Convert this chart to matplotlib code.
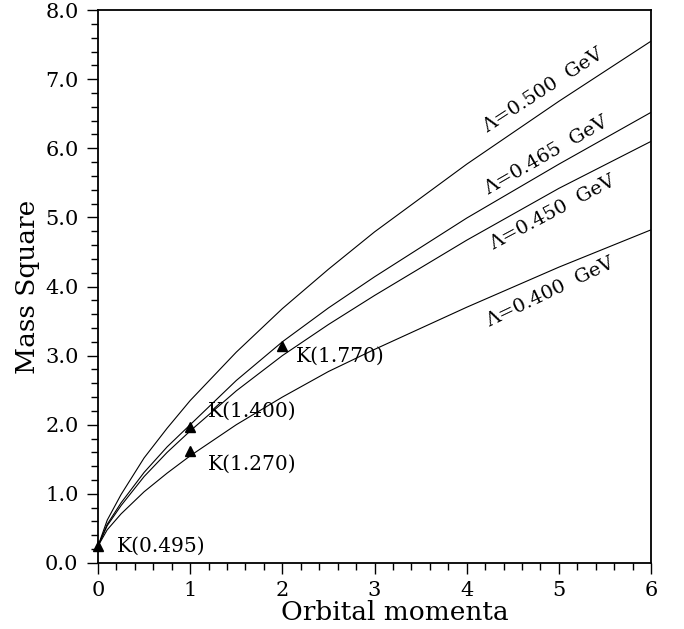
import matplotlib
matplotlib.use("Agg")
import matplotlib.pyplot as plt
from matplotlib.ticker import MultipleLocator, FormatStrFormatter

plt.rcParams['font.family'] = ['DejaVu Serif']

# orbital momentum grid and curves
L = [0, 0.1, 0.25, 0.5, 0.75, 1, 1.5, 2, 2.5, 3, 4, 5, 6]
m2_500 = [0.245, 0.62, 0.99, 1.52, 1.95, 2.35, 3.05, 3.68, 4.25, 4.79, 5.77, 6.68, 7.55]
m2_465 = [0.245, 0.56, 0.87, 1.31, 1.68, 2.00, 2.64, 3.20, 3.69, 4.14, 4.99, 5.77, 6.52]
m2_450 = [0.245, 0.54, 0.83, 1.25, 1.60, 1.91, 2.49, 3.00, 3.45, 3.87, 4.67, 5.42, 6.10]
m2_400 = [0.245, 0.48, 0.71, 1.03, 1.30, 1.55, 2.00, 2.40, 2.77, 3.09, 3.70, 4.28, 4.82]

curve_labels = ["\u039b=0.500  GeV", "\u039b=0.465  GeV", "\u039b=0.450  GeV", "\u039b=0.400  GeV"]
label_pos = [(4.83, 6.84, 33), (4.86, 5.90, 30), (4.93, 5.07, 28), (4.91, 3.91, 25.5)]

# experimental kaon states
k_L = [0, 1, 1, 2]
k_m2 = [0.245, 1.613, 1.96, 3.133]
k_names = ["K(0.495)", "K(1.270)", "K(1.400)", "K(1.770)"]
k_text = [(0.2, 0.245), (1.19, 1.43), (1.19, 2.2), (2.15, 2.99)]

fig = plt.figure(figsize=(6.84, 6.29), dpi=100)
ax = fig.add_axes([0.1433, 0.105, 0.8085, 0.879])

for ys in [m2_500, m2_465, m2_450, m2_400]:
    ax.plot(L, ys, color='black', linewidth=0.8)

for lab, (x, y, rot) in zip(curve_labels, label_pos):
    ax.text(x, y, lab, rotation=rot, ha='center', va='center', fontsize=14)

ax.plot(k_L, k_m2, linestyle='none', marker='^', color='black', markersize=7, clip_on=False)
for name, (x, y) in zip(k_names, k_text):
    ax.text(x, y, name, ha='left', va='center', fontsize=14.5)

ax.set_xlim(0, 6)
ax.set_ylim(0, 8)
ax.xaxis.set_major_locator(MultipleLocator(1))
ax.xaxis.set_minor_locator(MultipleLocator(0.2))
ax.yaxis.set_major_locator(MultipleLocator(1))
ax.yaxis.set_minor_locator(MultipleLocator(0.2))
ax.yaxis.set_major_formatter(FormatStrFormatter('%.1f'))

ax.tick_params(which='major', direction='out', length=8, width=1, labelsize=15, pad=5)
ax.tick_params(which='minor', direction='out', length=5, width=1)
ax.tick_params(axis='y', which='major', pad=6)
for s in ax.spines.values():
    s.set_linewidth(1.3)

ax.set_xlabel("Orbital momenta", fontsize=19)
ax.xaxis.set_label_coords(0.537, -0.089)
ax.xaxis.label.set_va('center')
ax.set_ylabel("Mass Square", fontsize=19, labelpad=4)

fig.savefig("out.png", dpi=100)
